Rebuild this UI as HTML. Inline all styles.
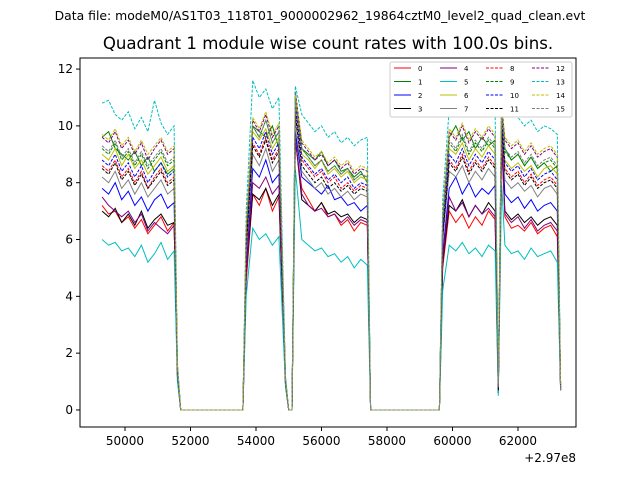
<!DOCTYPE html>
<html><head><meta charset="utf-8">
<style>
html,body{margin:0;padding:0;background:#fff;}
svg{display:block;font-family:"DejaVu Sans","Liberation Sans",sans-serif;}
</style></head>
<body>
<svg id="chart" width="640" height="480" viewBox="0 0 640 480">
<rect width="640" height="480" fill="#fff"/>
<text x="320" y="20" font-size="12.4" text-anchor="middle">Data file: modeM0/AS1T03_118T01_9000002962_19864cztM0_level2_quad_clean.evt</text>
<text x="328" y="49" font-size="16.6" text-anchor="middle">Quadrant 1 module wise count rates with 100.0s bins.</text>
<g id="plot"></g>
<rect x="80" y="58" width="496" height="369" fill="none" stroke="#000" stroke-width="1"/>
<g id="axes"></g>
<text x="576" y="462" font-size="12" text-anchor="end">+2.97e8</text>
<g id="legend"></g>
</svg>
<script>
const times=[49300,49500,49700,49900,50100,50300,50500,50700,50900,51100,51300,51500,51600,51700,53600,53700,53900,54100,54300,54500,54700,54900,55000,55100,55200,55400,55600,55800,56000,56200,56400,56600,56800,57000,57200,57400,57500,59600,59700,59900,60100,60300,60500,60700,60900,61100,61300,61400,61500,61600,61800,62000,62200,62400,62600,62800,63000,63200,63300];
const xTicks=[50000,52000,54000,56000,58000,60000,62000];
const yTicks=[0,2,4,6,8,10,12];
const seriesNames=["0","1","2","3","4","5","6","7","8","9","10","11","12","13","14","15"];
const s0=[7.2,6.9,7.0,6.6,6.8,6.4,6.7,6.2,6.5,6.8,6.3,6.6,1.2,0,0,4.5,7.6,7.2,7.8,7.0,7.5,0.9,0,0,9.5,7.8,7.4,7.0,7.3,6.8,6.9,6.5,6.7,6.3,6.6,6.5,0,0,5.0,7.0,6.6,6.9,6.4,6.8,6.5,7.0,6.7,0.6,9.5,6.8,6.4,6.5,6.3,6.6,6.2,6.4,6.5,6.1,0.7];
const s1=[9.6,9.8,9.2,9.0,8.8,9.1,8.6,8.9,8.4,8.7,8.3,8.5,1.5,0,0,6.0,10.0,9.8,9.6,10.0,9.2,1.1,0,0,11.2,9.2,9.0,8.8,9.1,8.6,8.8,8.4,8.5,8.2,8.4,8.0,0,0,6.8,9.6,10.0,9.5,9.8,9.2,9.6,9.3,9.5,0.9,10.8,9.2,8.8,9.0,8.6,8.9,8.5,8.7,8.4,8.6,0.8];
const s2=[7.8,7.6,8.0,7.4,7.7,7.2,7.5,7.0,7.4,7.6,7.1,7.3,1.3,0,0,5.0,8.5,8.2,8.8,8.0,8.3,1.0,0,0,9.8,8.2,8.0,7.8,7.6,7.9,7.4,7.5,7.2,7.3,7.0,7.2,0,0,5.5,7.8,8.2,7.6,8.0,7.5,7.8,7.6,7.9,0.7,9.8,7.6,7.3,7.5,7.1,7.4,7.0,7.2,7.3,7.0,0.7];
const s3=[7.0,6.8,7.1,6.6,6.9,6.5,7.0,6.4,6.7,6.9,6.5,6.6,1.2,0,0,4.8,7.6,7.4,7.8,7.2,7.6,0.9,0,0,9.6,7.4,7.2,7.0,7.3,6.9,7.0,6.8,6.9,6.6,6.8,6.7,0,0,5.2,7.2,7.0,7.4,6.8,7.2,6.9,7.3,7.0,0.6,9.6,7.0,6.7,6.9,6.6,6.8,6.5,6.7,6.8,6.5,0.7];
const s4=[7.5,7.2,7.0,6.8,7.0,6.6,6.9,6.3,6.6,6.4,6.2,6.5,1.2,0,0,4.8,8.0,7.8,8.2,7.6,7.9,0.9,0,0,9.6,7.6,7.2,7.0,7.1,6.8,6.9,6.6,6.8,6.5,6.7,6.6,0,0,5.3,7.5,7.0,7.3,6.8,7.2,6.9,7.1,6.8,0.6,9.4,6.9,6.6,6.8,6.4,6.7,6.3,6.5,6.6,6.3,0.7];
const s5=[6.0,5.8,5.9,5.6,5.7,5.4,5.8,5.2,5.5,5.9,5.3,5.6,1.0,0,0,4.0,6.4,6.0,6.2,5.8,6.1,0.8,0,0,8.5,6.0,5.8,5.6,5.7,5.4,5.5,5.2,5.4,5.0,5.3,5.1,0,0,4.2,5.8,5.6,5.9,5.5,5.7,5.4,5.8,5.6,0.5,8.0,5.8,5.5,5.6,5.3,5.7,5.4,5.5,5.6,5.2,0.7];
const s6=[9.0,8.8,9.2,8.6,9.0,8.5,8.8,8.3,8.6,8.9,8.4,8.6,1.4,0,0,6.0,9.8,9.5,9.9,9.2,9.6,1.0,0,0,10.8,9.0,8.8,8.5,8.8,8.3,8.5,8.2,8.4,8.0,8.2,8.1,0,0,6.5,9.2,9.0,9.4,8.8,9.2,8.9,9.3,9.0,0.8,10.4,8.8,8.5,8.7,8.4,8.6,8.2,8.5,8.6,8.3,0.8];
const s7=[8.2,8.0,8.4,7.8,8.1,7.6,8.0,7.5,7.8,8.1,7.6,7.8,1.3,0,0,5.5,9.0,8.6,9.2,8.4,8.8,1.0,0,0,10.2,8.4,8.1,7.8,8.0,7.6,7.8,7.5,7.7,7.4,7.6,7.5,0,0,6.0,8.4,8.2,8.6,8.0,8.4,8.1,8.5,8.2,0.7,9.8,8.1,7.8,8.0,7.7,7.9,7.5,7.8,7.9,7.6,0.7];
const s8=[8.6,8.4,8.8,8.2,8.5,8.0,8.4,7.8,8.2,8.5,8.0,8.2,1.4,0,0,5.8,9.4,9.0,9.6,8.8,9.2,1.0,0,0,10.6,8.8,8.5,8.2,8.4,8.0,8.2,7.8,8.0,7.7,7.9,7.8,0,0,6.2,8.8,8.5,9.0,8.4,8.8,8.5,8.9,8.6,0.8,10.0,8.5,8.2,8.4,8.0,8.3,7.9,8.1,8.2,7.9,0.8];
const s9=[9.2,9.0,9.4,8.8,9.1,8.6,9.0,8.5,8.8,9.1,8.6,8.8,1.5,0,0,6.2,10.0,9.6,10.2,9.4,9.8,1.1,0,0,11.0,9.2,8.9,8.6,8.8,8.4,8.6,8.3,8.5,8.1,8.3,8.2,0,0,6.6,9.4,9.1,9.6,9.0,9.4,9.1,9.5,9.2,0.8,10.5,9.1,8.8,9.0,8.6,8.9,8.5,8.7,8.8,8.5,0.8];
const s10=[8.8,8.6,9.0,8.4,8.7,8.2,8.6,8.0,8.4,8.7,8.2,8.4,1.4,0,0,5.9,9.6,9.2,9.8,9.0,9.4,1.0,0,0,10.7,8.9,8.6,8.3,8.5,8.1,8.3,8.0,8.2,7.8,8.0,7.9,0,0,6.3,9.0,8.7,9.2,8.6,9.0,8.7,9.1,8.8,0.8,10.2,8.7,8.4,8.6,8.2,8.5,8.1,8.3,8.4,8.1,0.8];
const s11=[8.5,8.3,8.7,8.1,8.4,7.9,8.3,7.8,8.1,8.4,7.9,8.1,1.4,0,0,5.7,9.3,8.9,9.5,8.7,9.1,1.0,0,0,10.4,8.6,8.3,8.0,8.2,7.8,8.0,7.7,7.9,7.6,7.8,7.7,0,0,6.1,8.7,8.4,8.9,8.3,8.7,8.4,8.8,8.5,0.7,9.9,8.4,8.1,8.3,7.9,8.2,7.8,8.0,8.1,7.8,0.8];
const s12=[9.6,9.4,9.8,9.2,9.5,9.0,9.4,8.8,9.2,9.5,9.0,9.2,1.6,0,0,6.4,10.2,9.8,10.4,9.6,10.0,1.1,0,0,11.2,9.4,9.1,8.8,9.0,8.6,8.8,8.5,8.7,8.3,8.5,8.4,0,0,6.8,9.8,9.5,10.0,9.4,9.8,9.5,9.9,9.6,0.9,10.8,9.5,9.2,9.4,9.0,9.3,8.9,9.1,9.2,8.9,0.9];
const s13=[10.8,10.9,10.4,10.2,10.5,9.9,10.3,9.8,10.9,10.1,9.7,10.0,1.7,0,0,7.0,11.6,11.0,11.3,10.6,11.0,1.2,0,0,11.4,10.4,10.1,9.8,10.0,9.6,9.8,9.4,9.6,9.3,9.5,9.6,0,0,7.4,10.6,10.9,11.2,10.5,10.8,10.4,10.9,10.6,1.0,11.0,10.8,10.4,10.3,10.0,10.2,9.8,10.0,9.9,9.7,1.0];
const s14=[9.7,9.5,9.9,9.3,9.6,9.1,9.5,9.0,9.3,9.6,9.1,9.3,1.6,0,0,6.5,10.3,9.9,10.5,9.7,10.1,1.1,0,0,11.1,9.5,9.2,8.9,9.1,8.7,8.9,8.6,8.8,8.4,8.6,8.5,0,0,6.9,9.9,9.6,10.1,9.5,9.9,9.6,10.0,9.7,0.9,10.7,9.6,9.3,9.5,9.1,9.4,9.0,9.2,9.3,9.0,0.9];
const s15=[9.3,9.1,9.5,8.9,9.2,8.7,9.1,8.6,8.9,9.2,8.7,8.9,1.5,0,0,6.3,10.0,9.6,10.2,9.4,9.8,1.1,0,0,10.9,9.2,8.9,8.6,8.8,8.4,8.6,8.3,8.5,8.1,8.3,8.2,0,0,6.7,9.5,9.2,9.7,9.1,9.5,9.2,9.6,9.3,0.8,10.4,9.2,8.9,9.1,8.7,9.0,8.6,8.8,8.9,8.6,0.8];
const seriesValues=[s0,s1,s2,s3,s4,s5,s6,s7,s8,s9,s10,s11,s12,s13,s14,s15];

const colors=["#ff0000","#008000","#0000ff","#000000","#800080","#00bfbf","#bfbf00","#808080"];
const NS="http://www.w3.org/2000/svg";
const X0=80,X1=576,Y0=58,Y1=427;
const xMin=48626,xMax=63771,yMin=-0.6,yMax=12.39;
function xs(v){return X0+(v-xMin)/(xMax-xMin)*(X1-X0);}
function ys(v){return Y1-(v-yMin)/(yMax-yMin)*(Y1-Y0);}
function mk(tag,attrs,parent){const e=document.createElementNS(NS,tag);for(const k in attrs)e.setAttribute(k,attrs[k]);parent.appendChild(e);return e;}

const plot=document.getElementById('plot');
seriesValues.forEach((vals,i)=>{
  const d=vals.map((v,j)=>(j?'L':'M')+xs(times[j]).toFixed(1)+','+ys(v).toFixed(1)).join('');
  const p=mk('path',{d:d,fill:'none',stroke:colors[i%8],'stroke-width':1},plot);
  if(i>=8)p.setAttribute('stroke-dasharray','3,1.5');
  
  
});

const axes=document.getElementById('axes');
xTicks.forEach(t=>{
  const x=xs(t);
  const l=mk('line',{x1:x,x2:x,y1:Y1,y2:Y1+4,stroke:'#000'},axes);
  
  
  const tx=mk('text',{x:x,y:Y1+18,'font-size':12,'text-anchor':'middle'},axes);
  tx.textContent=t;
  
  
});
yTicks.forEach(t=>{
  const y=ys(t);
  const l=mk('line',{x1:X0-4,x2:X0,y1:y,y2:y,stroke:'#000'},axes);
  
  
  const tx=mk('text',{x:X0-7,y:y+4,'font-size':12,'text-anchor':'end'},axes);
  tx.textContent=t;
  
  
});

const lg=document.getElementById('legend');
const box=mk('rect',{x:390,y:62,width:182,height:55,fill:'#fff',stroke:'#ccc',rx:2},lg);


seriesNames.forEach((n,i)=>{
  const col=Math.floor(i/4),row=i%4;
  const x=394+col*46,y=68+row*13.5;
  const l=mk('line',{x1:x,x2:x+17,y1:y,y2:y,stroke:colors[i%8],'stroke-width':1},lg);
  if(i>=8)l.setAttribute('stroke-dasharray','3,1.5');
  
  
  const t=mk('text',{x:x+24,y:y+3,'font-size':7},lg);
  t.textContent=n;
  
  
});
</script>
</body></html>
